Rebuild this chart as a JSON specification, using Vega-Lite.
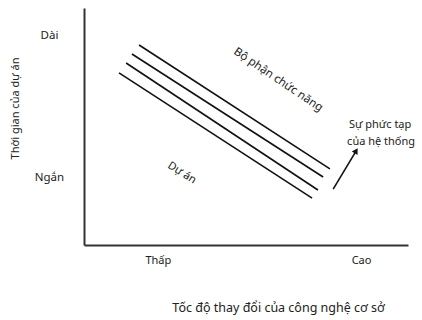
{
  "$schema": "https://vega.github.io/schema/vega-lite/v6.json",
  "autosize": {"type": "none"},
  "padding": {"left": 84, "top": 8, "right": 14, "bottom": 75},
  "width": 324,
  "height": 237,
  "background": "white",
  "config": {
    "view": {"stroke": null},
    "font": "Noto Sans",
    "text": {"font": "Noto Sans", "fontSize": 11, "color": "#222"}
  },
  "datasets": {
    "lines": [
      {"series": "l1", "x": 1.70, "y": 8.44}, {"series": "l1", "x": 7.59, "y": 3.21},
      {"series": "l2", "x": 1.48, "y": 8.06}, {"series": "l2", "x": 7.38, "y": 2.87},
      {"series": "l3", "x": 1.30, "y": 7.68}, {"series": "l3", "x": 7.22, "y": 2.32},
      {"series": "l4", "x": 1.08, "y": 7.26}, {"series": "l4", "x": 7.04, "y": 1.98}
    ],
    "arrow": [
      {"series": "arrow", "x": 7.69, "y": 2.36}, {"series": "arrow", "x": 8.41, "y": 3.99}
    ],
    "head": [{"x": 8.40, "y": 3.98}],
    "boLabel": [{"label": "Bộ phận chức năng", "x": 5.99, "y": 6.96}],
    "duLabel": [{"label": "Dự án", "x": 3.02, "y": 3.04}],
    "suLabel": [
      {"label": "Sự phức tạp", "x": 9.14, "y": 5.06},
      {"label": "của hệ thống", "x": 9.17, "y": 4.35}
    ]
  },
  "layer": [
    {
      "data": {"name": "lines"},
      "mark": {"type": "line", "color": "#111", "strokeWidth": 1.6},
      "encoding": {
        "x": {
          "field": "x", "type": "quantitative",
          "scale": {"domain": [0, 10], "nice": false, "zero": false},
          "axis": {
            "values": [2.28, 8.55],
            "labelExpr": "datum.value < 5 ? 'Thấp' : 'Cao'",
            "grid": false, "ticks": false, "tickSize": 0,
            "domainColor": "#333", "domainWidth": 2,
            "labelFont": "Noto Sans", "labelFontSize": 11, "labelColor": "#222",
            "labelPadding": 9,
            "title": "Tốc độ thay đổi của công nghệ cơ sở",
            "titleFont": "Noto Sans", "titleFontSize": 12.5, "titleFontWeight": "normal", "titleColor": "#222",
            "titleX": 194, "titleY": 62, "titleBaseline": "middle", "titleAlign": "center"
          }
        },
        "y": {
          "field": "y", "type": "quantitative",
          "scale": {"domain": [0, 10], "nice": false, "zero": false},
          "axis": {
            "values": [2.83, 8.86],
            "labelExpr": "datum.value > 5 ? 'Dài' : 'Ngắn'",
            "grid": false, "ticks": false, "tickSize": 0,
            "domainColor": "#333", "domainWidth": 2,
            "labelFont": "Noto Sans", "labelFontSize": 11.5, "labelColor": "#222",
            "labelAlign": "center", "labelBaseline": "middle", "labelPadding": 35,
            "title": "Thời gian của dự án",
            "titleFont": "Noto Sans", "titleFontSize": 11, "titleFontWeight": "normal", "titleColor": "#222",
            "titleAngle": -90, "titleX": -69, "titleY": 100, "titleBaseline": "middle", "titleAlign": "center"
          }
        },
        "detail": {"field": "series"}
      }
    },
    {
      "data": {"name": "arrow"},
      "mark": {"type": "line", "color": "#111", "strokeWidth": 1.6},
      "encoding": {
        "x": {"field": "x", "type": "quantitative"},
        "y": {"field": "y", "type": "quantitative"}
      }
    },
    {
      "data": {"name": "head"},
      "mark": {"type": "point", "shape": "triangle-up", "filled": true, "color": "#111", "opacity": 1, "size": 45, "angle": 31},
      "encoding": {
        "x": {"field": "x", "type": "quantitative"},
        "y": {"field": "y", "type": "quantitative"}
      }
    },
    {
      "data": {"name": "boLabel"},
      "mark": {"type": "text", "angle": 34, "align": "center", "baseline": "middle", "fontSize": 11.5},
      "encoding": {
        "x": {"field": "x", "type": "quantitative"},
        "y": {"field": "y", "type": "quantitative"},
        "text": {"field": "label"}
      }
    },
    {
      "data": {"name": "duLabel"},
      "mark": {"type": "text", "angle": 32, "align": "center", "baseline": "middle"},
      "encoding": {
        "x": {"field": "x", "type": "quantitative"},
        "y": {"field": "y", "type": "quantitative"},
        "text": {"field": "label"}
      }
    },
    {
      "data": {"name": "suLabel"},
      "mark": {"type": "text", "align": "center", "baseline": "middle"},
      "encoding": {
        "x": {"field": "x", "type": "quantitative"},
        "y": {"field": "y", "type": "quantitative"},
        "text": {"field": "label"}
      }
    }
  ]
}
